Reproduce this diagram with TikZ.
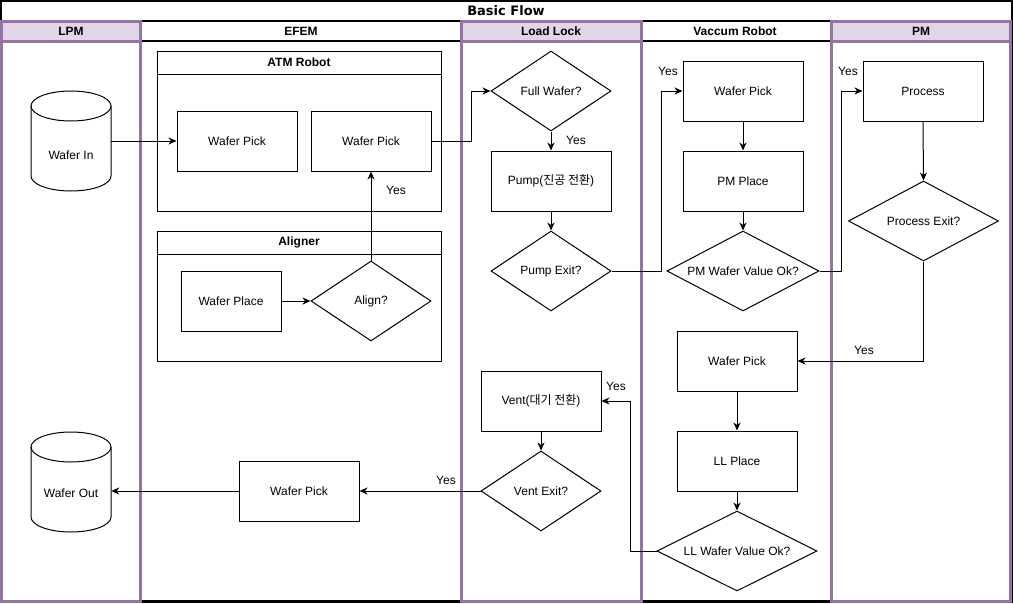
\documentclass[tikz,border=0pt]{standalone}
\usepackage{fontspec}
\setmainfont{Liberation Sans}
\newfontfamily\krfont{Noto Sans CJK KR}
\newfontfamily\titlefont{DejaVu Sans}
\usetikzlibrary{arrows.meta,shapes.geometric}

\definecolor{lanestroke}{HTML}{9673A6}
\definecolor{lanefill}{HTML}{E1D5E7}

\begin{document}
\begin{tikzpicture}[x=1pt,y=-1pt,
  font=\fontsize{12}{14}\selectfont,
  lanek/.style={draw=black, line width=2pt},
  lanep/.style={draw=lanestroke, line width=3pt},
  frame/.style={draw=black, line width=1pt},
  stepbox/.style={draw=black, line width=1pt, fill=white, rectangle,
    minimum width=120pt, minimum height=60pt, inner sep=0pt},
  decision/.style={draw=black, line width=1pt, fill=white, diamond,
    minimum width=120pt, minimum height=80pt, inner sep=0pt, shape aspect=1.5},
  hdr/.style={font=\bfseries\fontsize{12}{14}\selectfont},
  yes/.style={inner sep=0pt},
  arr/.style={draw=black, line width=1pt,
    -{Stealth[length=8pt,width=7pt,inset=2.5pt]}},
  cylarea/.style={rectangle, minimum width=80pt, minimum height=100pt, inner sep=0pt}
]
\useasboundingbox (0,0) rectangle (1013,603);
\fill[white] (0,0) rectangle (1013,603);

% pool with title band
\draw[line width=2.5pt] (1,1) rectangle (1011.8,601.8);
\node[font=\titlefont\bfseries\fontsize{13}{15}\selectfont] (title) at (506,11) {Basic Flow};

% plain lanes
\draw[lanek] (141,21) rectangle (461,601);
\draw[lanek] (141,41) -- (461,41);
\draw[lanek] (641,21) rectangle (831,601);
\draw[lanek] (641,41) -- (831,41);

% tinted lanes
\foreach \a/\b in {1.5/140.5, 461/641, 831/1010.5} {
  \fill[lanefill] (\a,21) rectangle (\b,41);
  \draw[lanep] (\a,21) rectangle (\b,601);
  \draw[lanep] (\a,41) -- (\b,41);
}

% lane headers
\node[hdr] (hlpm) at (71,31) {LPM};
\node[hdr] (hefem) at (301,31) {EFEM};
\node[hdr] (hll) at (551,31) {Load Lock};
\node[hdr] (hvr) at (735,31) {Vaccum Robot};
\node[hdr] (hpm) at (921,31) {PM};

% sub containers in EFEM
\draw[frame] (157,51) rectangle (441,211);
\draw[frame] (157,74) -- (441,74);
\node[hdr] (hatm) at (299,62.5) {ATM Robot};
\draw[frame] (157,231) rectangle (441,361);
\draw[frame] (157,254) -- (441,254);
\node[hdr] (halign) at (299,242.5) {Aligner};

% cylinders
\draw[frame, fill=white] (31,106) -- (31,176) arc[start angle=180, end angle=0, x radius=40, y radius=15] -- (111,106);
\draw[frame] (71,106) ellipse [x radius=40, y radius=15];
\node[cylarea] (win) at (71,141) {};
\node (winlbl) at (71,155) {Wafer In};

\draw[frame, fill=white] (31,447) -- (31,517) arc[start angle=180, end angle=0, x radius=40, y radius=15] -- (111,447);
\draw[frame] (71,447) ellipse [x radius=40, y radius=15];
\node[cylarea] (wout) at (71,482) {};
\node (woutlbl) at (71,493) {Wafer Out};

% EFEM steps
\node[stepbox] (wp1) at (237,141) {Wafer Pick};
\node[stepbox] (wp2) at (371,141) {Wafer Pick};
\node[stepbox, minimum width=100pt] (wplace) at (231,301) {Wafer Place};
\node[decision] (align) at (371,301) {Align?};
\node[stepbox] (wp3) at (299,491) {Wafer Pick};

% Load Lock steps
\node[decision] (full) at (551,91) {Full Wafer?};
\node[stepbox] (pump) at (551,181) {Pump({\krfont 진공 전환})};
\node[decision] (pexit) at (551,271) {Pump Exit?};
\node[stepbox] (vent) at (541,401) {Vent({\krfont 대기 전환})};
\node[decision] (vexit) at (541,491) {Vent Exit?};

% Vaccum Robot steps
\node[stepbox] (vwp) at (743,91) {Wafer Pick};
\node[stepbox] (pmplace) at (743,181) {PM Place};
\node[decision, minimum width=152pt, shape aspect=1.9] (pmok) at (743,271) {PM Wafer Value Ok?};
\node[stepbox] (vwp2) at (737,361) {Wafer Pick};
\node[stepbox] (llplace) at (737,461) {LL Place};
\node[decision, minimum width=160pt, shape aspect=2] (llok) at (737,551) {LL Wafer Value Ok?};

% PM steps
\node[stepbox] (proc) at (923,91) {Process};
\node[decision, minimum width=150pt, shape aspect=1.875] (pexit2) at (923.5,221) {Process Exit?};

% bend points
\coordinate (b1) at (471,141);
\coordinate (b2) at (661,271);
\coordinate (b3) at (841,271);
\coordinate (b4) at (630,551);

% connectors
\draw[arr] (win.east) -- (wp1.west);
\draw[arr] (wplace.east) -- (align.west);
\draw[arr] (align.north) -- (wp2.south);
\draw[arr] (wp2.east) -- (b1) |- (full.west);
\draw[arr] (full.south) -- (pump.north);
\draw[arr] (pump.south) -- (pexit.north);
\draw[arr] (pexit.east) -- (b2) |- (vwp.west);
\draw[arr] (vwp.south) -- (pmplace.north);
\draw[arr] (pmplace.south) -- (pmok.north);
\draw[arr] (pmok.east) -- (b3) |- (proc.west);
\draw[arr] (proc.south) -- (pexit2.north);
\draw[arr] (pexit2.south) |- (vwp2.east);
\draw[arr] (vwp2.south) -- (llplace.north);
\draw[arr] (llplace.south) -- (llok.north);
\draw[arr] (llok.west) -- (b4) |- (vent.east);
\draw[arr] (vent.south) -- (vexit.north);
\draw[arr] (vexit.west) -- (wp3.east);
\draw[arr] (wp3.west) -- (wp3.west -| wout.east);

% branch labels
\node[yes] (y1) at (396,190) {Yes};
\node[yes] (y2) at (576,140) {Yes};
\node[yes] (y3) at (668,71) {Yes};
\node[yes] (y4) at (848,71) {Yes};
\node[yes] (y5) at (864,350) {Yes};
\node[yes] (y6) at (616,386) {Yes};
\node[yes] (y7) at (446,480) {Yes};
\end{tikzpicture}
\end{document}
